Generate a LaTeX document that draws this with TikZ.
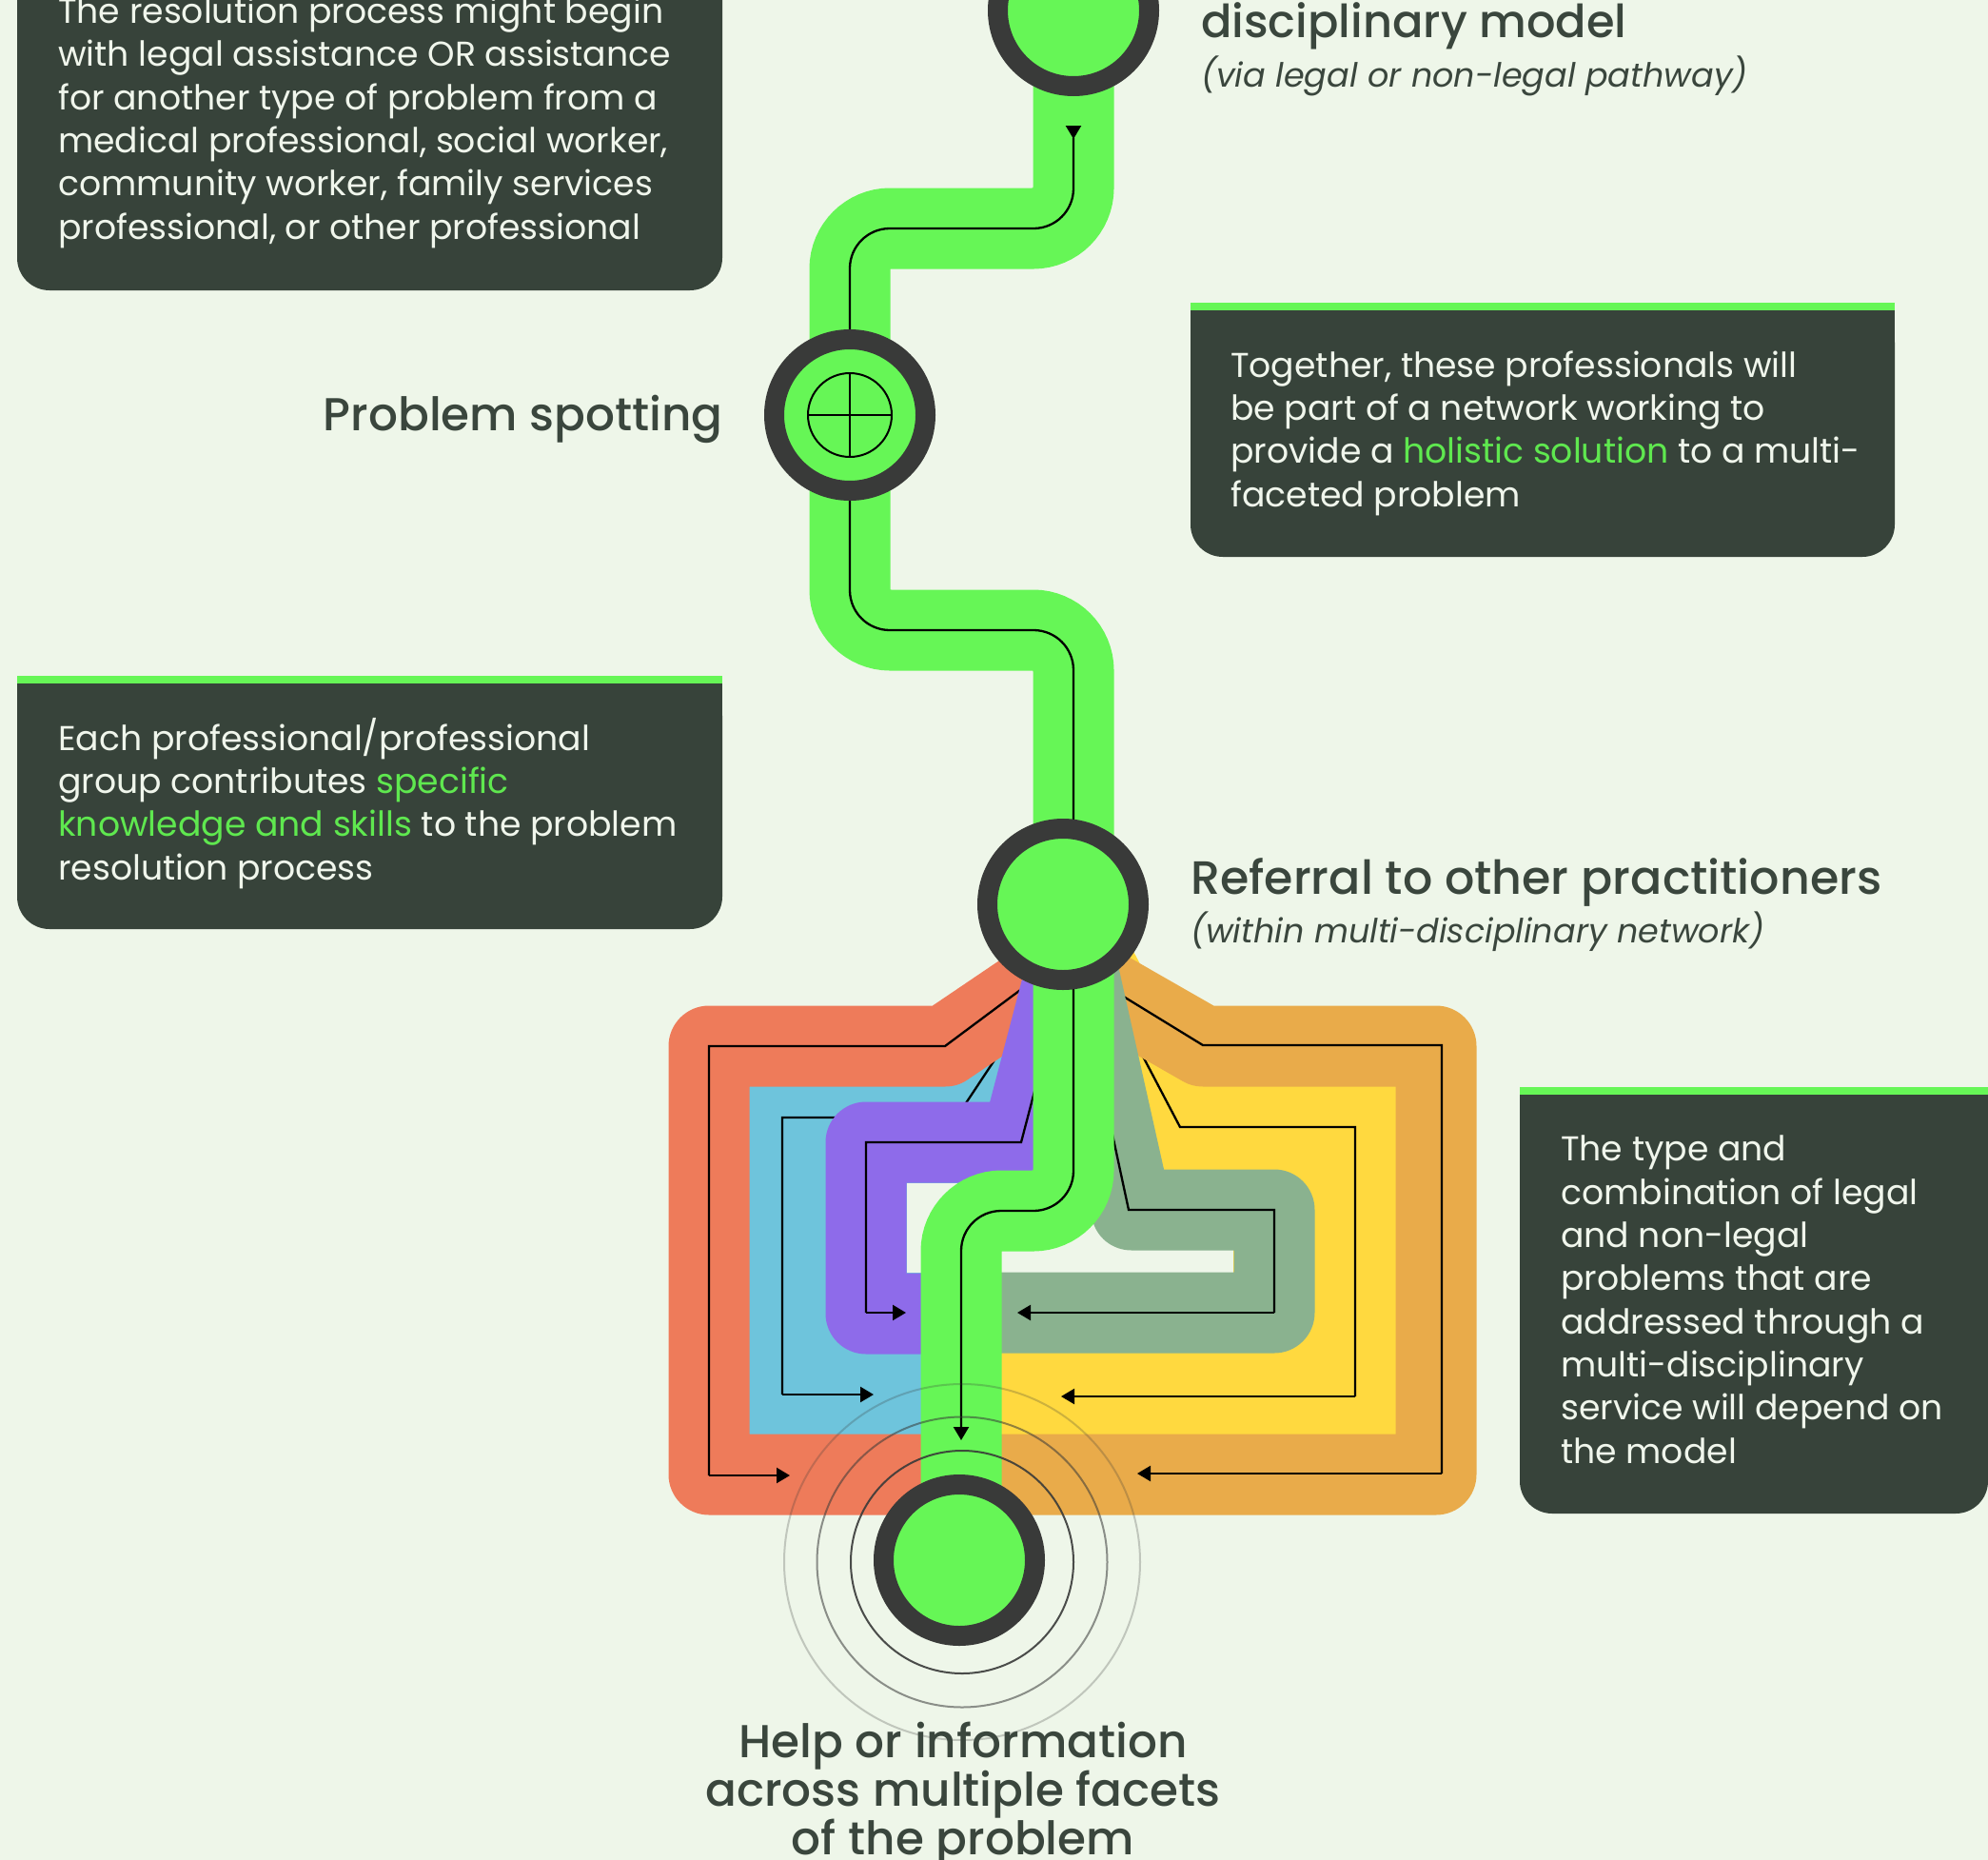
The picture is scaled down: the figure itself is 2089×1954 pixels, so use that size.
\documentclass[tikz,border=0pt]{standalone}
\usepackage{fontspec}
\usetikzlibrary{arrows.meta}
\setmainfont{Poppins}
\newfontfamily\headfont{Poppins Medium}
\definecolor{bgc}{HTML}{EEF6E9}
\definecolor{grn}{HTML}{66F656}
\definecolor{grntxt}{HTML}{5FE84F}
\definecolor{ringc}{HTML}{393A39}
\definecolor{boxc}{HTML}{37433A}
\definecolor{wtxt}{HTML}{F0F6EC}
\definecolor{headc}{HTML}{3A463D}
\definecolor{redc}{HTML}{EE7B5A}
\definecolor{orac}{HTML}{E9AB4A}
\definecolor{bluc}{HTML}{6EC4DC}
\definecolor{yelc}{HTML}{FFD93F}
\definecolor{purc}{HTML}{8E6BEA}
\definecolor{sagc}{HTML}{8AB28F}
\tikzset{
  band/.style={line width=85pt,line join=round},
  trace/.style={black,line width=2.3pt},
  atip/.style={trace,-{Triangle[width=16pt,length=14pt]}},
  rtip/.style={trace,-{Triangle[reversed,width=16pt,length=14pt]}},
  hub/.style={circle,draw=ringc,fill=grn,line width=21pt,minimum size=159pt,inner sep=0pt},
  halo/.style={circle,inner sep=0pt,fill=none},
  bodytxt/.style={inner sep=0pt,anchor=base west,align=left,text=wtxt,font=\fontsize{36.2}{45.3}\selectfont},
  headtxt/.style={inner sep=0pt,text=headc,font=\headfont\fontsize{48.5}{51}\selectfont},
  subtxt/.style={inner sep=0pt,anchor=base west,text=headc,font=\itshape\fontsize{35}{40}\selectfont},
}
\newcommand{\hl}[1]{\textcolor{grntxt}{#1}}
\begin{document}
\begin{tikzpicture}[x=1pt,y=-1pt]
\useasboundingbox[fill=bgc] (0,0) rectangle (2089,1954);
% anchor points of the route
\coordinate (ptop) at (1128,11);
\coordinate (pspot) at (893,436);
\coordinate (pref) at (1117,950);
\coordinate (phelp) at (1008,1639);
% blue and yellow fields with the pale window between them
\fill[bluc] (787,1132) rectangle (1010,1508);
\fill[yelc] (1010,1132) rectangle (1467,1508);
\draw[band,bluc] (1117,1000) -- (1005,1174) -- (900,1174);
\draw[band,yelc] (pref) -- (1240,1184) -- (1300,1184);
\fill[bgc] (953,1243) rectangle (1296,1337);
% traces under the upper bands
\draw[trace] (1117,1005) -- (1005,1174) -- (822,1174) -- (822,1465);
\draw[atip] (822,1465) -- (918,1465);
\draw[trace] (pref) -- (1240,1184) -- (1424,1184) -- (1424,1467);
\draw[atip] (1424,1467) -- (1115,1467);
\draw[band,redc] (1095,1030) -- (993,1099) -- (745,1099) -- (745,1549) -- (1010,1549);
\draw[trace] (1095,1023) -- (993,1099) -- (745,1099) -- (745,1550);
\draw[atip] (745,1550) -- (830,1550);
\draw[band,orac] (1140,1028) -- (1264,1099) -- (1509,1099) -- (1509,1549) -- (1010,1549);
\draw[trace] (1140,1022) -- (1264,1098) -- (1515,1098) -- (1515,1548);
\draw[atip] (1515,1548) -- (1195,1548);
\draw[band,purc] (1115,1040) -- (1073,1200) -- (910,1200) -- (910,1380) -- (1010,1380);
\draw[trace] (1115,1040) -- (1073,1200) -- (910,1200) -- (910,1379);
\draw[atip] (910,1379) -- (952,1379);
\draw[band,sagc] (pref) -- (1189,1271) -- (1339,1271) -- (1339,1379) -- (1010,1379);
\draw[trace] (pref) -- (1186,1271) -- (1339,1271) -- (1339,1379);
\draw[atip] (1339,1379) -- (1069,1379);
% main green route
\draw[line width=85pt,grn,rounded corners=42.5pt] (ptop) -- (1128,240) -- (893,240) -- (pspot);
\draw[line width=85pt,grn,rounded corners=42.5pt] (pspot) -- (893,662) -- (1128,662) -- (1128,950);
\draw[line width=85pt,grn,rounded corners=42.5pt] (1128,950) -- (1128,1272) -- (1010,1272) -- (1010,1639);
\draw[trace,rounded corners=42pt] (pspot) -- (893,240) -- (1128,240) -- (1128,145);
\draw[rtip] (1128,146) -- (1128,132);
\draw[trace,rounded corners=42pt] (pspot) -- (893,662) -- (1128,662) -- (1128,950);
\draw[atip,rounded corners=42pt] (1128,950) -- (1128,1272) -- (1010,1272) -- (1010,1513);
% halo rings
\node[halo,draw=ringc,line width=2pt,opacity=.9,minimum size=234pt] (haloa) at (1011,1641) {};
\node[halo,draw=ringc,line width=2pt,opacity=.55,minimum size=305pt] (halob) at (1011,1641) {};
\node[halo,draw=ringc,line width=2pt,opacity=.25,minimum size=374pt] (haloc) at (1011,1641) {};
% hubs
\node[hub] (top) at (ptop) {};
\node[hub] (spot) at (pspot) {};
\node[hub] (ref) at (pref) {};
\node[hub] (help) at (phelp) {};
\node[circle,draw=black,line width=2pt,minimum size=88pt,inner sep=0pt] (cross) at (pspot) {};
\draw[trace] (cross.north) -- (cross.south);
\draw[trace] (cross.west) -- (cross.east);
% boxes
\fill[boxc,rounded corners=34pt] (18,-60) rectangle (759,305);
\fill[boxc,rounded corners=34pt] (1251,326) rectangle (1991,585);
\fill[boxc] (1251,326) rectangle (1991,380);
\fill[grn] (1251,318) rectangle (1991,326);
\fill[boxc,rounded corners=34pt] (18,718) rectangle (759,976);
\fill[boxc] (18,718) rectangle (759,770);
\fill[grn] (18,710) rectangle (759,718);
\fill[boxc,rounded corners=34pt] (1597,1150) rectangle (2089,1590);
\fill[boxc] (1597,1150) rectangle (2089,1200);
\fill[grn] (1597,1142) rectangle (2089,1150);
% texts (a multi-line node's base is its last line)
\node[bodytxt] (ta) at (61,251) {The resolution process might begin\\with legal assistance OR assistance\\for another type of problem from a\\medical professional, social worker,\\community worker, family services\\professional, or other professional};
\node[bodytxt] (tb) at (1293,532) {Together, these professionals will\\be part of a network working to\\provide a \hl{holistic solution} to a multi-\\faceted problem};
\node[bodytxt] (tc) at (61,924) {Each professional/professional\\group contributes \hl{specific}\\\hl{knowledge and skills} to the problem\\resolution process};
\node[bodytxt] (td) at (1640,1537) {The type and\\combination of legal\\and non-legal\\problems that are\\addressed through a\\multi-disciplinary\\service will depend on\\the model};
\node[headtxt,anchor=base west,font=\headfont\fontsize{47.9}{51}\selectfont] (hmodel) at (1262,39) {disciplinary model};
\node[subtxt] (smodel) at (1262,91) {(via legal or non-legal pathway)};
\node[headtxt,anchor=base east] (hspot) at (760,452) {Problem spotting};
\node[headtxt,anchor=base west,font=\headfont\fontsize{49.1}{51}\selectfont] (hrefer) at (1251,939) {Referral to other practitioners};
\node[subtxt] (srefer) at (1251,990) {(within multi-disciplinary network)};
\node[headtxt,anchor=base,align=center] (hhelp) at (1012,1948) {Help or information\\across multiple facets\\of the problem};
\end{tikzpicture}
\end{document}
